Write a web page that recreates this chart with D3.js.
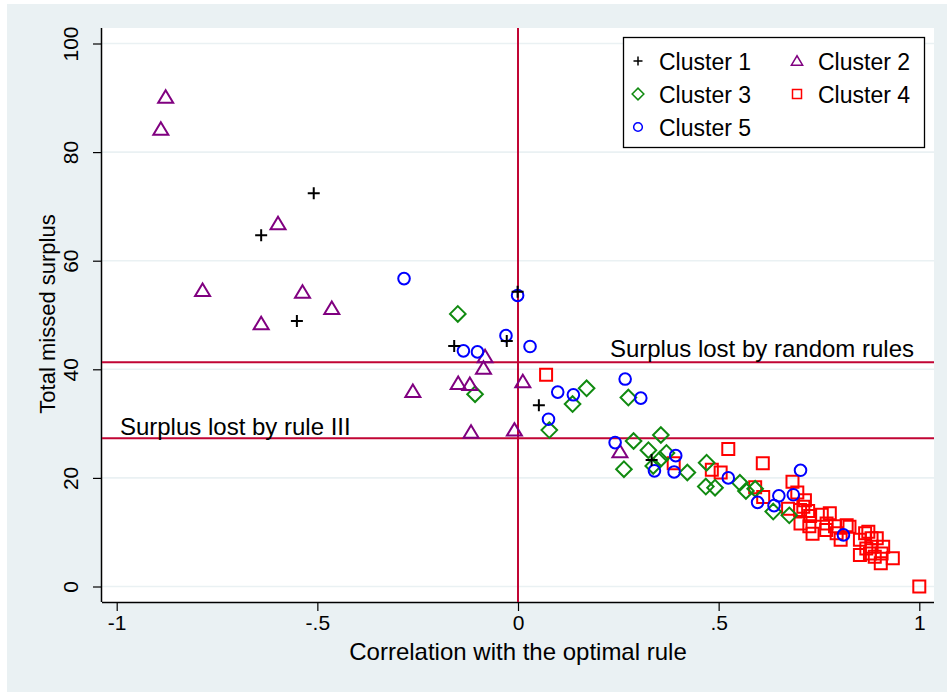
<!DOCTYPE html>
<html>
<head>
<meta charset="utf-8">
<script src="https://cdn.jsdelivr.net/npm/d3@7"></script>
<style>
  body { margin: 0; background: #fff; }
  text { font-family: "Liberation Sans", Arial, sans-serif; fill: #000; }
</style>
</head>
<body>
<div id="chart"></div>
<script>
"use strict";

// correlation with the optimal rule / total missed surplus, by cluster
var cluster1 = [[-0.509,72.4],[-0.640,64.7],[-0.551,48.9],[-0.159,44.3],[-0.028,45.2],[-0.001,54.3],[0.052,33.4],[0.333,23.3]];
var cluster2 = [[-0.878,90.1],[-0.890,84.2],[-0.786,54.5],[-0.598,66.8],[-0.537,54.2],[-0.464,51.2],[-0.640,48.4],[-0.262,35.9],
  [-0.082,42.3],[-0.086,40.2],[-0.149,37.4],[-0.120,37.2],[0.012,37.7],[-0.117,28.4],[-0.009,28.8],[0.254,24.8]];
var cluster3 = [[-0.150,50.2],[-0.107,35.4],[0.171,36.5],[0.136,33.6],[0.275,34.8],[0.078,28.8],[0.288,26.8],[0.356,27.9],
  [0.325,25.1],[0.370,24.6],[0.354,23.4],[0.264,21.6],[0.337,22.2],[0.422,21.0],[0.470,22.8],[0.468,18.4],[0.491,18.2],
  [0.553,19.1],[0.568,17.6],[0.591,18.0],[0.636,13.8],[0.676,13.1]];
var cluster4 = [[0.070,39.0],[0.524,25.3],[0.610,22.7],[0.388,22.7],[0.483,21.5],[0.505,21.0],[0.591,18.3],[0.611,16.5],
  [0.684,19.3],[0.673,14.3],[0.696,17.3],[0.715,15.9],[0.711,14.7],[0.703,14.1],[0.723,13.9],[0.728,13.0],[0.704,11.6],
  [0.726,11.1],[0.734,9.7],[0.757,13.2],[0.777,13.5],[0.769,11.6],[0.768,10.4],[0.790,11.1],[0.794,9.8],[0.804,8.6],
  [0.819,11.3],[0.826,11.0],[0.852,8.6],[0.865,9.8],[0.873,10.1],[0.881,8.9],[0.894,8.9],[0.852,5.8],[0.868,7.0],
  [0.877,6.1],[0.889,5.5],[0.906,6.1],[0.910,7.3],[0.904,4.3],[0.934,5.2],[0.881,7.3],[1.000,0.0]];
var cluster5 = [[-0.284,56.7],[-0.001,53.6],[-0.030,46.2],[0.030,44.2],[-0.136,43.4],[-0.101,43.2],[0.267,38.2],[0.099,35.8],
  [0.138,35.3],[0.306,34.7],[0.076,30.8],[0.242,26.5],[0.393,24.1],[0.340,21.3],[0.389,21.1],[0.524,20.0],[0.597,15.5],
  [0.650,16.7],[0.638,14.9],[0.686,16.9],[0.704,21.4],[0.811,9.5]];

var xTicks = [-1, -0.5, 0, 0.5, 1];
var xTickLabels = ["-1", "-.5", "0", ".5", "1"];
var yTicks = [0, 20, 40, 60, 80, 100];

var randomRules = 41.3;
var ruleIII = 27.3;

var width = 947, height = 692;
var plot = {left: 102, right: 934, top: 28, bottom: 602};

var svg = d3.select("#chart").append("svg")
  .attr("width", width)
  .attr("height", height);

// graph region
svg.append("rect")
  .attr("x", 7).attr("y", 4)
  .attr("width", width - 7).attr("height", height - 4)
  .attr("fill", "#eaf1f3");

svg.append("rect")
  .attr("x", plot.left).attr("y", plot.top)
  .attr("width", plot.right - plot.left).attr("height", plot.bottom - plot.top)
  .attr("fill", "#fff");

var x = d3.scaleLinear().domain([-1, 1]).range([116.7, 919.3]);
var y = d3.scaleLinear().domain([0, 100]).range([586.5, 43.5]);

// gridlines
svg.append("g")
  .selectAll("line")
  .data(yTicks)
  .enter().append("line")
  .attr("x1", plot.left).attr("x2", plot.right)
  .attr("y1", function(d) { return y(d); })
  .attr("y2", function(d) { return y(d); })
  .attr("stroke", "#eaf1f3")
  .attr("stroke-width", 1.6);

// axes
var xAxis = d3.axisBottom(x)
  .tickValues(xTicks)
  .tickSize(9)
  .tickPadding(4)
  .tickFormat(function(d, i) { return xTickLabels[i]; });

var yAxis = d3.axisLeft(y)
  .tickValues(yTicks)
  .tickSize(9)
  .tickFormat(d3.format("d"));

var gx = svg.append("g")
  .attr("transform", "translate(0," + plot.bottom + ")")
  .call(xAxis);
gx.select(".domain").attr("d", "M" + plot.left + ",0.5H" + plot.right).attr("stroke", "#000").attr("stroke-width", 1.5);
gx.selectAll(".tick line").attr("stroke", "#000").attr("stroke-width", 1.2);
gx.selectAll(".tick text").attr("font-size", 21).attr("font-family", "Liberation Sans, Arial, sans-serif").attr("fill", "#000");

var gy = svg.append("g")
  .attr("transform", "translate(" + plot.left + ",0)")
  .call(yAxis);
gy.select(".domain").attr("d", "M-0.5," + plot.top + "V" + plot.bottom).attr("stroke", "#000").attr("stroke-width", 1.5);
gy.selectAll(".tick line").attr("stroke", "#000").attr("stroke-width", 1.2);
gy.selectAll(".tick text")
  .attr("font-size", 21)
  .attr("font-family", "Liberation Sans, Arial, sans-serif")
  .attr("fill", "#000")
  .attr("x", null).attr("dy", null)
  .attr("text-anchor", "middle")
  .attr("transform", "translate(-24,0) rotate(-90)");

// axis titles
svg.append("text")
  .attr("x", x(0)).attr("y", 660)
  .attr("text-anchor", "middle")
  .attr("font-size", 24)
  .text("Correlation with the optimal rule");

svg.append("text")
  .attr("transform", "translate(55," + (y(50) - 1) + ") rotate(-90)")
  .attr("text-anchor", "middle")
  .attr("font-size", 22)
  .text("Total missed surplus");

// reference lines
var refColor = "#c10534";
svg.append("line")
  .attr("x1", x(0)).attr("x2", x(0))
  .attr("y1", plot.top).attr("y2", plot.bottom)
  .attr("stroke", refColor).attr("stroke-width", 2);

svg.selectAll("line.hline")
  .data([randomRules, ruleIII])
  .enter().append("line")
  .attr("class", "hline")
  .attr("x1", plot.left).attr("x2", plot.right)
  .attr("y1", function(d) { return y(d); })
  .attr("y2", function(d) { return y(d); })
  .attr("stroke", refColor).attr("stroke-width", 2);

svg.append("text")
  .attr("x", x(0.229)).attr("y", y(randomRules) - 5)
  .attr("font-size", 24)
  .text("Surplus lost by random rules");

svg.append("text")
  .attr("x", x(-0.992)).attr("y", y(ruleIII) - 3)
  .attr("font-size", 24)
  .text("Surplus lost by rule III");

// marker shapes
function shapePath(type) {
  if (type === "plus") return "M-6,0H6M0,-6V6";
  if (type === "triangle") return "M0,-7L7.5,5.5L-7.5,5.5Z";
  if (type === "diamond") return "M0,-7.8L7.8,0L0,7.8L-7.8,0Z";
  if (type === "square") return "M-6,-6H6V6H-6Z";
  return d3.arc()({innerRadius: 0, outerRadius: 5.8, startAngle: 0, endAngle: 2 * Math.PI});
}

var series = [
  {name: "Cluster 4", data: cluster4, shape: "square", color: "#ff0000"},
  {name: "Cluster 3", data: cluster3, shape: "diamond", color: "#108a10"},
  {name: "Cluster 2", data: cluster2, shape: "triangle", color: "#800080"},
  {name: "Cluster 5", data: cluster5, shape: "circle", color: "#0000ff"},
  {name: "Cluster 1", data: cluster1, shape: "plus", color: "#000000"}
];

series.forEach(function(s) {
  svg.append("g")
    .selectAll("path")
    .data(s.data)
    .enter().append("path")
    .attr("d", shapePath(s.shape))
    .attr("transform", function(d) { return "translate(" + x(d[0]) + "," + y(d[1]) + ")"; })
    .attr("fill", "none")
    .attr("stroke", s.color)
    .attr("stroke-width", 2);
});

// legend
var legend = svg.append("g");
legend.append("rect")
  .attr("x", 623.5).attr("y", 37.5)
  .attr("width", 301).attr("height", 110)
  .attr("fill", "#fff")
  .attr("stroke", "#000")
  .attr("stroke-width", 1.3);

var legendItems = [
  {name: "Cluster 1", shape: "plus", color: "#000000", col: 0, row: 0},
  {name: "Cluster 2", shape: "triangle", color: "#800080", col: 1, row: 0},
  {name: "Cluster 3", shape: "diamond", color: "#108a10", col: 0, row: 1},
  {name: "Cluster 4", shape: "square", color: "#ff0000", col: 1, row: 1},
  {name: "Cluster 5", shape: "circle", color: "#0000ff", col: 0, row: 2}
];

var li = legend.selectAll("g.item")
  .data(legendItems)
  .enter().append("g")
  .attr("class", "item")
  .attr("transform", function(d) { return "translate(" + (638 + d.col * 159) + "," + (61 + d.row * 33) + ")"; });

li.append("path")
  .attr("d", function(d) { return shapePath(d.shape); })
  .attr("transform", "scale(0.75)")
  .attr("fill", "none")
  .attr("stroke", function(d) { return d.color; })
  .attr("stroke-width", 2);

li.append("text")
  .attr("x", 21).attr("y", 8.5)
  .attr("font-size", 23)
  .text(function(d) { return d.name; });
</script>
</body>
</html>
